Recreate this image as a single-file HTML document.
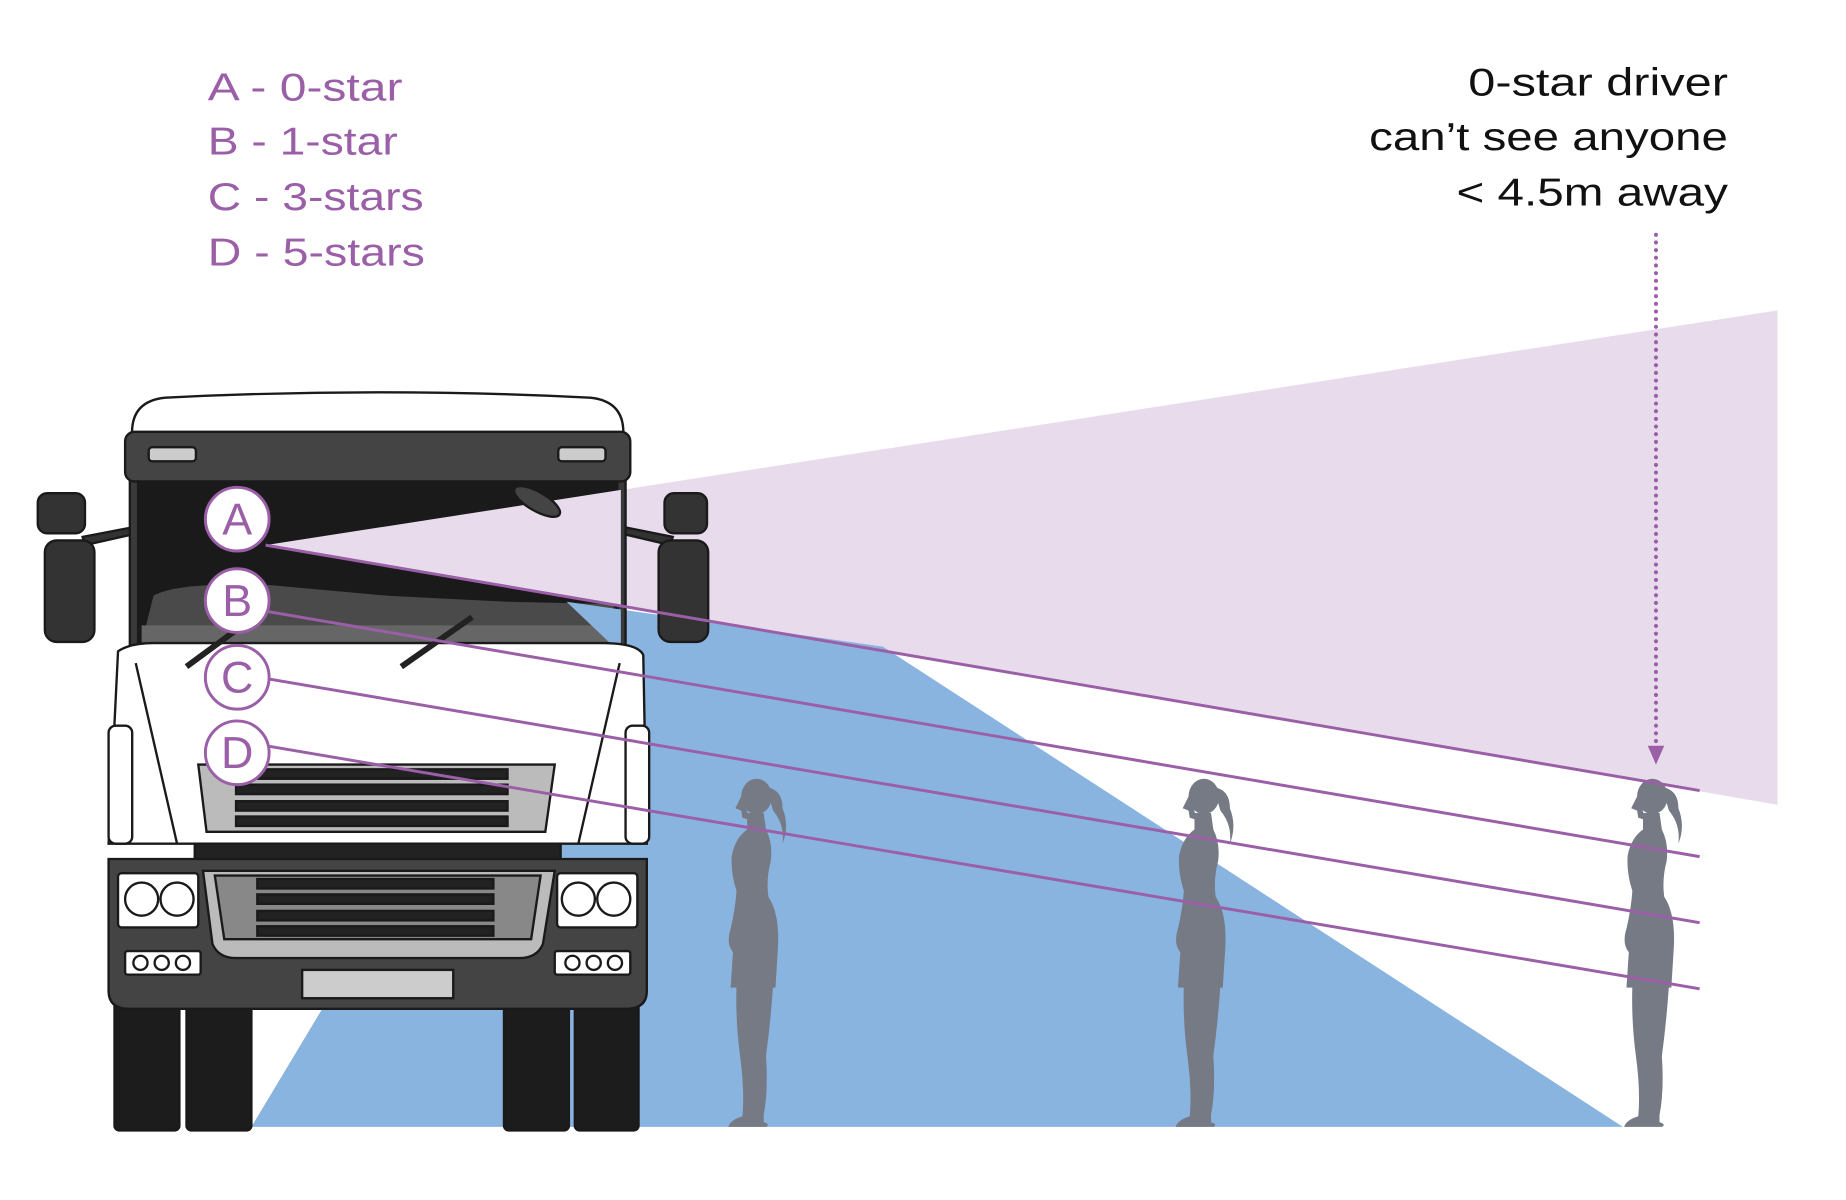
<!DOCTYPE html>
<html><head><meta charset="utf-8"><style>html,body{margin:0;padding:0;background:#fff}svg{display:block}</style></head>
<body>
<svg width="1846" height="1200" viewBox="0 0 1564 1017" preserveAspectRatio="none" xmlns="http://www.w3.org/2000/svg">
<defs>
<g id="woman" fill="#767a85">
  <ellipse cx="0" cy="-280" rx="13" ry="15"/>
  <path d="M-12,-282 L-18,-270 L-13,-268 L-12,-262 L-6,-260 Z"/>
  <path d="M8,-288 Q22,-286 22,-270 Q28,-255 22,-240 Q24,-256 14,-268 Z"/>
  <path d="M-8,-266 L6,-266 L8,-252 Q14,-240 12,-225 Q8,-210 10,-195 Q20,-180 18,-150 L16,-118 L-22,-118 L-20,-148 Q-26,-155 -22,-168 Q-18,-185 -17,-200 Q-22,-215 -21,-230 Q-18,-245 -8,-252 Z"/>
  <path d="M-17,-120 L14,-120 Q12,-90 8,-60 Q10,-30 6,-10 L6,-4 Q12,-2 8,0 L-24,0 Q-22,-6 -12,-9 Q-10,-30 -14,-60 Q-18,-90 -17,-120 Z"/>
</g>
<clipPath id="ws"><rect x="114" y="405" width="412" height="145"/></clipPath>
</defs>
<!-- legend -->
<g font-family="Liberation Sans, sans-serif" font-size="33" fill="#9b5fa8">
<text x="176" y="85" textLength="165" lengthAdjust="spacingAndGlyphs">A - 0-star</text>
<text x="176" y="131" textLength="161" lengthAdjust="spacingAndGlyphs">B - 1-star</text>
<text x="176" y="178" textLength="183" lengthAdjust="spacingAndGlyphs">C - 3-stars</text>
<text x="176" y="225" textLength="184" lengthAdjust="spacingAndGlyphs">D - 5-stars</text>
</g>
<g font-family="Liberation Sans, sans-serif" font-size="33" fill="#111" text-anchor="end">
<text x="1464" y="81" textLength="220" lengthAdjust="spacingAndGlyphs">0-star driver</text>
<text x="1464" y="127" textLength="304" lengthAdjust="spacingAndGlyphs">can’t see anyone</text>
<text x="1464" y="174" textLength="230" lengthAdjust="spacingAndGlyphs">&lt; 4.5m away</text>
</g>
<!-- zones -->
<polygon points="225,462 1506,263 1506,682" fill="#e8dcec"/>
<polygon points="213,955 480,510 748,548 1375,955" fill="#8ab4e0"/>
<!-- dotted arrow -->
<line x1="1403" y1="199" x2="1403" y2="636" stroke="#9b5fa8" stroke-width="3.5" stroke-dasharray="0 6.5" stroke-linecap="round"/>
<path d="M1396,632 L1410,632 L1403,648 Z" fill="#9b5fa8"/>
<!-- women -->
<use href="#woman" x="641" y="955"/>
<use href="#woman" x="1020" y="955"/>
<use href="#woman" x="1400" y="955"/>
<!-- truck -->
<g stroke="#1a1a1a" stroke-width="2">
  <rect x="97" y="840" width="55" height="118" rx="4" fill="#1c1c1c"/>
  <rect x="158" y="840" width="55" height="118" rx="4" fill="#1c1c1c"/>
  <rect x="427" y="840" width="55" height="118" rx="4" fill="#1c1c1c"/>
  <rect x="487" y="840" width="54" height="118" rx="4" fill="#1c1c1c"/>
  <path d="M70,455 L112,447 L112,453 L72,462 Z" fill="#333"/>
  <path d="M530,447 L570,455 L568,462 L530,453 Z" fill="#333"/>
  <rect x="32" y="418" width="40" height="34" rx="8" fill="#333"/>
  <rect x="38" y="458" width="42" height="86" rx="10" fill="#333"/>
  <rect x="563" y="418" width="36" height="34" rx="8" fill="#333"/>
  <rect x="558" y="458" width="42" height="86" rx="10" fill="#333"/>
  <path d="M112,370 Q110,340 140,337 Q320,328 500,337 Q530,340 528,370 Z" fill="#fff"/>
  <rect x="110" y="400" width="420" height="158" fill="#3a3a3a"/>
  <rect x="116" y="405" width="408" height="145" fill="#1a1a1a" stroke="none"/>
  <path d="M130,505 Q150,493 230,496 L330,505 L430,510 L520,512 L520,545 L120,545 Z" fill="#4a4a4a" stroke="none"/>
  <rect x="120" y="530" width="400" height="14" fill="#666" stroke="none"/>
</g>
<g clip-path="url(#ws)">
  <polygon points="225,462 1506,263 1506,682" fill="#e8dcec"/>
  <polygon points="480,510 748,548 520,548" fill="#8ab4e0"/>
</g>
<g stroke="#1a1a1a" stroke-width="2">
  <ellipse cx="455" cy="425" rx="22" ry="8" transform="rotate(30 455 425)" fill="#444"/>
  <path d="M100,552 Q110,545 130,545 L510,545 Q540,545 545,555 L548,715 L92,715 Z" fill="#fff"/>
  <path d="M115,562 L150,715 M525,562 L490,715" fill="none"/>
  <rect x="92" y="615" width="20" height="100" rx="6" fill="#fff"/>
  <rect x="530" y="615" width="20" height="100" rx="6" fill="#fff"/>
  <rect x="106" y="366" width="428" height="42" rx="8" fill="#444"/>
  <rect x="126" y="379" width="40" height="12" rx="3" fill="#ccc"/>
  <rect x="473" y="379" width="40" height="12" rx="3" fill="#ccc"/>
  <path d="M158,565 L215,523 M340,565 L400,523" stroke="#222" stroke-width="5"/>
  <path d="M168,648 L470,648 L462,705 L175,705 Z" fill="#bbb"/>
  <rect x="200" y="652" width="230" height="8" fill="#222"/>
  <rect x="200" y="665" width="230" height="8" fill="#222"/>
  <rect x="200" y="679" width="230" height="8" fill="#222"/>
  <rect x="200" y="692" width="230" height="8" fill="#222"/>
  <rect x="165" y="715" width="310" height="14" fill="#222"/>
  <path d="M92,728 L548,728 L548,840 Q548,855 530,855 L110,855 Q92,855 92,840 Z" fill="#444"/>
  <rect x="100" y="740" width="68" height="46" rx="3" fill="#fff"/>
  <rect x="472" y="740" width="68" height="46" rx="3" fill="#fff"/>
  <circle cx="120" cy="762" r="14" fill="#fff"/><circle cx="150" cy="762" r="14" fill="#fff"/>
  <circle cx="490" cy="762" r="14" fill="#fff"/><circle cx="520" cy="762" r="14" fill="#fff"/>
  <path d="M172,738 L470,738 L460,800 Q455,812 440,812 L200,812 Q185,812 180,800 Z" fill="#bbb"/>
  <path d="M182,742 L458,742 L450,796 L190,796 Z" fill="#888"/>
  <rect x="218" y="745" width="200" height="8" fill="#222"/>
  <rect x="218" y="758" width="200" height="8" fill="#222"/>
  <rect x="218" y="772" width="200" height="8" fill="#222"/>
  <rect x="218" y="785" width="200" height="8" fill="#222"/>
  <rect x="106" y="806" width="64" height="20" rx="2" fill="#fff"/>
  <rect x="470" y="806" width="64" height="20" rx="2" fill="#fff"/>
  <circle cx="119" cy="816" r="6" fill="#fff"/><circle cx="137" cy="816" r="6" fill="#fff"/><circle cx="155" cy="816" r="6" fill="#fff"/>
  <circle cx="485" cy="816" r="6" fill="#fff"/><circle cx="503" cy="816" r="6" fill="#fff"/><circle cx="521" cy="816" r="6" fill="#fff"/>
  <rect x="256" y="822" width="128" height="24" fill="#ccc"/>
</g>
<g stroke="#9b5fa8" stroke-width="2.5">
<line x1="225" y1="462" x2="1440" y2="670"/>
<line x1="225" y1="518" x2="1440" y2="726"/>
<line x1="225" y1="575" x2="1440" y2="782"/>
<line x1="225" y1="632" x2="1440" y2="838"/>
</g>
<g fill="#fff" stroke="#9b5fa8" stroke-width="2.5">
<circle cx="201" cy="440" r="27"/><circle cx="201" cy="509" r="27"/><circle cx="201" cy="574" r="27"/><circle cx="201" cy="638" r="27"/>
</g>
<g font-family="Liberation Sans, sans-serif" font-size="38" fill="#9b5fa8" text-anchor="middle">
<text x="201" y="453">A</text><text x="201" y="522">B</text><text x="201" y="587">C</text><text x="201" y="651">D</text>
</g>
</svg>
</body></html>
